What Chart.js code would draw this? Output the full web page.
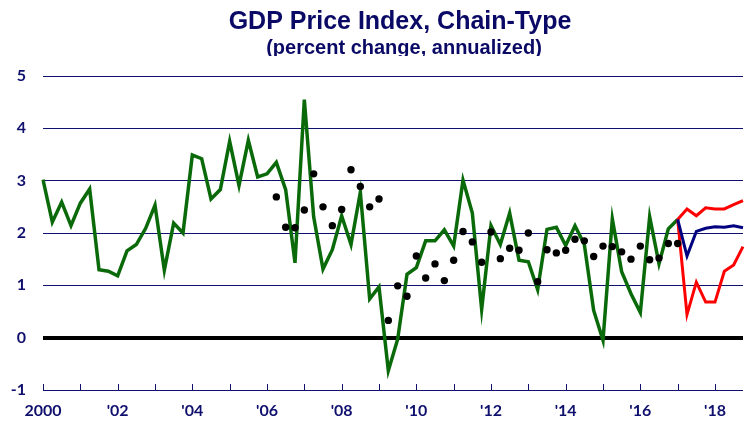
<!DOCTYPE html>
<html>
<head>
<meta charset="utf-8">
<script src="https://cdn.jsdelivr.net/npm/chart.js@4.4.1/dist/chart.umd.min.js"></script>
<style>
  html, body { margin: 0; padding: 0; background: #fff; }
  #wrap { width: 745px; height: 422px; }
</style>
</head>
<body>
<div id="wrap"><canvas id="gdp" width="745" height="422"></canvas></div>
<script>
// tick labels, one per even year
const yearLabels = ['2000', "'02", "'04", "'06", "'08", "'10", "'12", "'14", "'16", "'18"];

// quarterly categories 2000Q1 .. 2018Q4
const quarters = [];
for (let y = 2000; y <= 2018; y++) {
    for (let q = 1; q <= 4; q++) quarters.push(y + 'Q' + q);
}

// actual, 2000Q1 .. 2017Q1
const actual = [
    3.02, 2.21, 2.59, 2.14, 2.57, 2.84, 1.30, 1.27, 1.18, 1.66,
    1.78, 2.09, 2.53, 1.29, 2.19, 2.00, 3.49, 3.42, 2.65, 2.83,
    3.75, 2.91, 3.77, 3.07, 3.13, 3.35, 2.83, 1.43, 4.55, 2.31,
    1.31, 1.68, 2.33, 1.78, 2.78, 0.74, 0.97, -0.63, -0.03, 1.21,
    1.34, 1.85, 1.85, 2.06, 1.75, 3.01, 2.38, 0.54, 2.14, 1.78,
    2.38, 1.48, 1.45, 0.92, 2.07, 2.11, 1.76, 2.14, 1.78, 0.52,
    -0.05, 2.27, 1.26, 0.84, 0.48, 2.31, 1.41, 2.08, 2.26
];

// dots, 2006Q2 .. 2017Q1
const dotsFrom = '2006Q2';
const dots = [
    2.69, 2.11, 2.10, 2.44, 3.13, 2.50, 2.14, 2.45, 3.21, 2.89,
    2.50, 2.65, 0.33, 0.99, 0.79, 1.56, 1.14, 1.41, 1.09, 1.48,
    2.03, 1.83, 1.44, 2.02, 1.51, 1.71, 1.67, 2.00, 1.07, 1.68,
    1.62, 1.67, 1.88, 1.85, 1.55, 1.75, 1.74, 1.64, 1.50, 1.75,
    1.49, 1.52, 1.80, 1.80
];

// forecast and band, 2017Q1 .. 2018Q4
const forecastFrom = '2017Q1';
const forecast = [2.26, 1.56, 2.03, 2.09, 2.12, 2.11, 2.14, 2.10];
const upper    = [2.26, 2.46, 2.33, 2.48, 2.46, 2.46, 2.54, 2.62];
const lower    = [2.26, 0.44, 1.06, 0.68, 0.68, 1.27, 1.39, 1.74];

const NAVY = '#10106e';

const pad = (from, arr) => Array(quarters.indexOf(from)).fill(null).concat(arr);

const headings = {
    id: 'headings',
    afterDraw(chart, args, opts) {
        const ctx = chart.ctx;
        ctx.save();
        ctx.fillStyle = opts.color;
        ctx.textAlign = 'center';
        ctx.textBaseline = 'alphabetic';
        ctx.font = 'bold 25px "Liberation Sans", Arial, sans-serif';
        ctx.fillText(opts.title, opts.x, 29);
        // the subtitle is cut off at the bottom in the original
        ctx.beginPath();
        ctx.rect(0, 0, chart.width, 56);
        ctx.clip();
        ctx.font = 'bold 20px "Liberation Sans", Arial, sans-serif';
        ctx.fillText(opts.subtitle, opts.x + 4, 54);
        ctx.restore();
    }
};

// small year ticks pointing up from the bottom axis
const yearTicks = {
    id: 'yearTicks',
    beforeDatasetsDraw(chart) {
        const x = chart.scales.x;
        const bottom = chart.chartArea.bottom;
        const ctx = chart.ctx;
        ctx.save();
        ctx.strokeStyle = NAVY;
        ctx.lineWidth = 1;
        ctx.beginPath();
        for (let i = 0; i < quarters.length; i += 4) {
            const px = Math.round(x.getPixelForValue(i)) + 0.5;
            ctx.moveTo(px, bottom);
            ctx.lineTo(px, bottom - 6);
        }
        ctx.stroke();
        ctx.restore();
    }
};

const lineDs = (label, data, color, width, order) => ({
    label, data,
    borderColor: color,
    backgroundColor: color,
    borderWidth: width,
    pointRadius: 0,
    tension: 0,
    spanGaps: false,
    order,
});

new Chart(document.getElementById('gdp'), {
    type: 'line',
    data: {
        labels: quarters,
        datasets: [
            {
                label: 'Earlier estimates',
                data: pad(dotsFrom, dots),
                showLine: false,
                pointRadius: 3.7,
                pointBackgroundColor: '#000',
                pointBorderWidth: 0,
                order: 0,
            },
            lineDs('Forecast', pad(forecastFrom, forecast), '#000080', 3, 1),
            lineDs('Upper', pad(forecastFrom, upper), '#ff0000', 3, 2),
            lineDs('Lower', pad(forecastFrom, lower), '#ff0000', 3, 2),
            lineDs('Actual', actual, '#0a6a0a', 3.5, 3),
        ],
    },
    options: {
        responsive: false,
        animation: false,
        layout: { autoPadding: false, padding: { top: 76, right: 2, left: 0, bottom: 0 } },
        plugins: {
            legend: { display: false },
            tooltip: { enabled: false },
            headings: {
                title: 'GDP Price Index, Chain-Type',
                subtitle: '(percent change, annualized)',
                color: '#0a0a66',
                x: 400,
            },
        },
        scales: {
            x: {
                type: 'category',
                offset: false,
                grid: { display: false, drawTicks: false },
                border: { display: false },
                ticks: {
                    autoSkip: false,
                    maxRotation: 0,
                    padding: 11,
                    color: NAVY,
                    font: { family: 'Lato', size: 16, weight: 'bold' },
                    callback: (v, i) => (i % 8 === 0 ? yearLabels[i / 8] : ''),
                },
                afterFit: s => {
                    s.height = 32;
                    s.paddingLeft = 0;
                    s.paddingRight = 0;
                },
            },
            y: {
                min: -1,
                max: 5,
                grid: {
                    drawTicks: false,
                    color: c => (c.tick.value === 0 ? '#000' : NAVY),
                    lineWidth: c => (c.tick.value === 0 ? 4 : 1),
                },
                border: { display: false },
                ticks: {
                    stepSize: 1,
                    padding: 17,
                    color: NAVY,
                    font: { family: 'Lato', size: 16, weight: 'bold' },
                },
                afterFit: s => { s.width = 43; },
            },
        },
    },
    plugins: [headings, yearTicks],
});
</script>
</body>
</html>
